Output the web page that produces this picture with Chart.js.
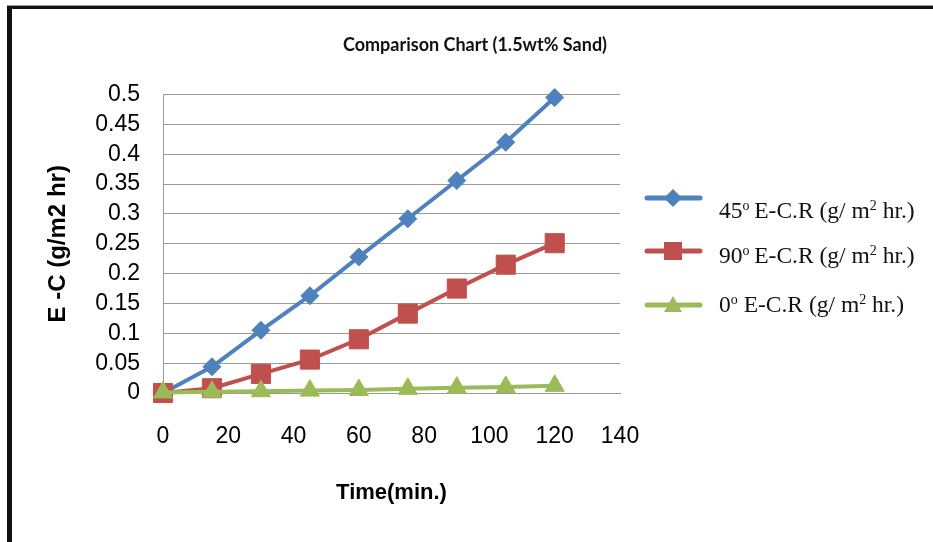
<!DOCTYPE html>
<html>
<head>
<meta charset="utf-8">
<script src="https://cdn.jsdelivr.net/npm/chart.js@4/dist/chart.umd.min.js"></script>
<style>
  html, body { margin: 0; padding: 0; background: #fff; overflow: hidden; }
  body { width: 933px; height: 542px; position: relative; }
  #chart { position: absolute; left: 0; top: 0; }
  #frame {
    position: absolute; left: 7px; top: 6px; width: 2000px; height: 2000px;
    border-top: 3px solid #111; border-left: 5px solid #111;
    box-shadow: 0 -1px 0 #999; pointer-events: none;
  }
  .leg-mark { position: absolute; left: 644px; width: 60px; height: 24px; }
  .leg-text {
    position: absolute; left: 719px; font-family: "Liberation Serif", "Times New Roman", serif;
    font-size: 23.5px; line-height: 22px; color: #111; white-space: nowrap;
  }
  .leg-text sup { font-size: 14px; line-height: 0; vertical-align: 8px; }
</style>
</head>
<body>
<canvas id="chart" width="933" height="542"></canvas>
<div id="frame"></div>
<div id="legend"></div>
<script>
// data
const timeMin = [0, 15, 30, 45, 60, 75, 90, 105, 120];
const ecr45 = [0, 0.044, 0.105, 0.163, 0.228, 0.292, 0.356, 0.42, 0.495];
const ecr90 = [0, 0.008, 0.032, 0.056, 0.09, 0.133, 0.175, 0.215, 0.251];
const ecr0 = [0.001, 0.002, 0.003, 0.004, 0.005, 0.007, 0.009, 0.010, 0.012];

const seriesAngles = ["45", "90", "0"];
const seriesColors = ["#4F81BD", "#C0504D", "#9BBB59"];
const chartTitle = "Comparison Chart (1.5wt% Sand)";
const xTitle = "Time(min.)";
const yTitle = "E -C (g/m2 hr)";

const toPoints = vals => vals.map((y, i) => ({ x: timeMin[i], y }));

function makeDataset(vals, idx, style, radius, order) {
  return {
    label: seriesAngles[idx] + "\u00BA E-C.R (g/ m\u00B2 hr.)",
    data: toPoints(vals),
    borderColor: seriesColors[idx],
    backgroundColor: seriesColors[idx],
    borderWidth: 4,
    pointStyle: style,
    pointRadius: radius,
    pointHoverRadius: radius,
    pointBorderWidth: 1,
    pointBorderColor: seriesColors[idx],
    tension: 0,
    clip: false,
    order
  };
}

const datasets = [
  makeDataset(ecr45, 0, "rectRot", 9, 2),
  makeDataset(ecr90, 1, "rect", 13.5, 1),
  makeDataset(ecr0, 2, "triangle", 11, 0)
];

const tickFont = { family: "'Liberation Sans', Arial, sans-serif", size: 23 };
const gridColor = "#9a9a9a";

new Chart(document.getElementById("chart").getContext("2d"), {
  type: "line",
  data: { datasets },
  options: {
    responsive: false,
    animation: false,
    layout: { padding: { left: 17, right: 0, top: 0, bottom: 0 } },
    plugins: {
      legend: { display: false },
      tooltip: { enabled: false },
      title: {
        display: true,
        text: chartTitle,
        color: "#111",
        font: { family: "Lato, 'Open Sans', sans-serif", size: 18, weight: "bold" },
        padding: { top: 34, bottom: 39 }
      }
    },
    scales: {
      x: {
        type: "linear",
        min: 0,
        max: 140,
        ticks: { stepSize: 20, color: "#000", font: tickFont, padding: 30, maxRotation: 0, autoSkip: false },
        grid: { display: false, drawTicks: false },
        border: { display: true, color: gridColor, width: 1 },
        title: {
          display: true, text: xTitle, color: "#000",
          font: { family: "'Liberation Sans', Arial, sans-serif", size: 22, weight: "bold" },
          padding: { top: 0, bottom: 36 }
        },
        afterFit(scale) { scale.height = 149; }
      },
      y: {
        min: 0,
        max: 0.5,
        ticks: {
          stepSize: 0.05, color: "#000", font: tickFont, padding: 23, autoSkip: false,
          callback: v => String(+v.toFixed(2))
        },
        grid: { color: gridColor, lineWidth: 1, drawTicks: false },
        border: { display: true, color: gridColor, width: 1 },
        title: {
          display: true, text: yTitle, color: "#000",
          font: { family: "'Liberation Sans', Arial, sans-serif", size: 24, weight: "bold" },
          padding: { top: 27, bottom: 0 }
        },
        afterFit(scale) { scale.width = 146; }
      },
      // empty right axis only reserves the room where the legend sits
      yRoom: {
        position: "right",
        display: true,
        ticks: { display: false },
        grid: { display: false, drawTicks: false },
        border: { display: false },
        afterFit(scale) { scale.width = 313; }
      }
    }
  }
});

// legend built as html so the superscripts stay real text
const legendTops = [199, 244, 293];
const markTops = [186, 239, 293];
const legendEl = document.getElementById("legend");
seriesAngles.forEach((a, i) => {
  const c = seriesColors[i];
  let marker;
  if (i === 0) marker = `<polygon points="29,3 38,12 29,21 20,12" fill="${c}"/>`;
  else if (i === 1) marker = `<rect x="20" y="3" width="18" height="18" fill="${c}"/>`;
  else marker = `<polygon points="29,3 38,19 20,19" fill="${c}"/>`;
  legendEl.insertAdjacentHTML("beforeend",
    `<svg class="leg-mark" style="top:${markTops[i]}px" viewBox="0 0 60 24">` +
    `<line x1="3" y1="12" x2="56" y2="12" stroke="${c}" stroke-width="5" stroke-linecap="round"/>${marker}</svg>` +
    `<div class="leg-text" style="top:${legendTops[i]}px">${a}<sup>o</sup>${i === 2 ? " " : "\u2009"}E-C.R (g/ m<sup>2</sup> hr.)</div>`);
});
</script>
</body>
</html>
